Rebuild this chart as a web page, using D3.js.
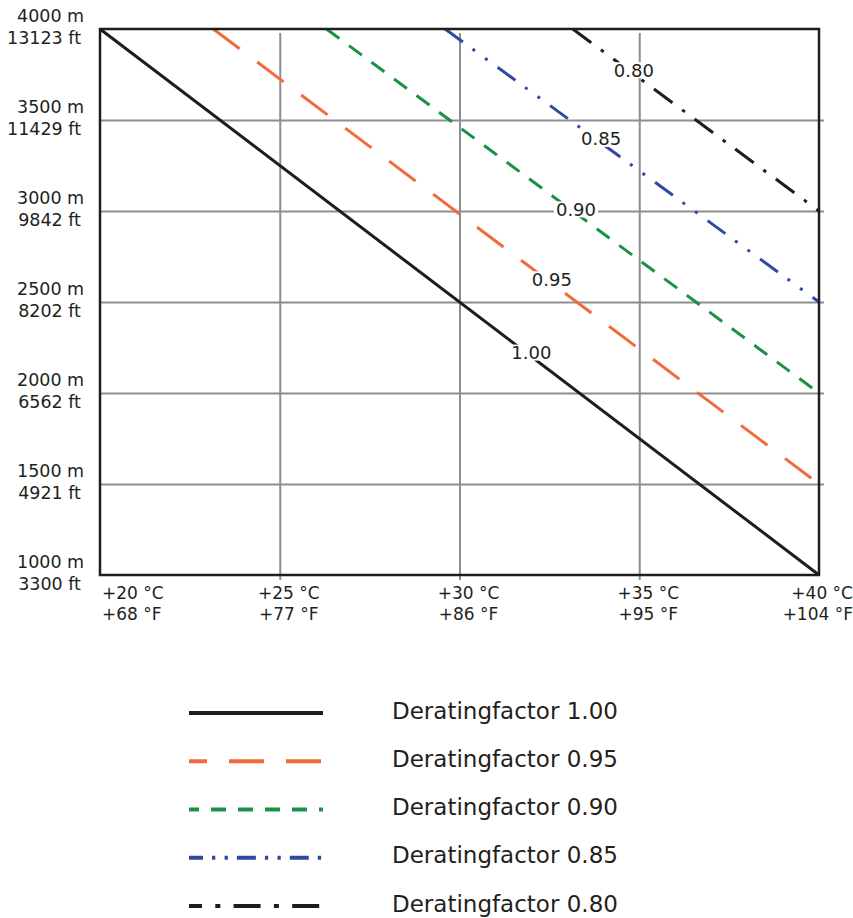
<!DOCTYPE html>
<html>
<head>
<meta charset="utf-8">
<script src="https://cdn.jsdelivr.net/npm/d3@7"></script>
<style>
  html, body { margin: 0; padding: 0; background: #fff; }
  svg { display: block; }
  text { font-family: "DejaVu Sans", sans-serif; fill: #231f20; }
</style>
</head>
<body>
<svg id="chart" width="853" height="918"></svg>
<script>
// Ambient temperature ticks (°C with °F equivalents)
const tempC = [20, 25, 30, 35, 40];
const tempF = [68, 77, 86, 95, 104];

// Altitude ticks (m with ft equivalents)
const altM = [1000, 1500, 2000, 2500, 3000, 3500, 4000];
const altFt = [3300, 4921, 6562, 8202, 9842, 11429, 13123];

// Derating factor curves: temperature where each reaches 4000 m,
// and the altitude each reaches at +40 °C
const factors = ["1.00", "0.95", "0.90", "0.85", "0.80"];
const tempAtTop = [20, 23.15, 26.3, 29.6, 33.15];
const altAt40 = [1000, 1500, 2000, 2500, 3000];

const series = factors.map((f, i) => ({
  factor: f,
  points: [[tempAtTop[i], 4000], [40, altAt40[i]]]
}));

const svg = d3.select("#chart");

const plot = { left: 100, right: 819, top: 29, bottom: 575 };
const x = d3.scaleLinear().domain([20, 40]).range([plot.left, plot.right]);
const y = d3.scaleLinear().domain([1000, 4000]).range([plot.bottom, plot.top]);

const styles = {
  "1.00": { color: "#1d1d1b", dash: null, legendDash: null, legendOffset: 0 },
  "0.95": { color: "#f26b3b", dash: "33,22", legendDash: "35,22", legendOffset: 17 },
  "0.90": { color: "#1b9148", dash: "16,12", legendDash: "15,12", legendOffset: 5 },
  "0.85": { color: "#3049a3", dash: "22,12,3,12.5,3,12.5", legendDash: "19,9,3.3,9.3,3.3,9", legendOffset: 5 },
  "0.80": { color: "#1d1d1b", dash: "23,12,3.5,12", legendDash: "27,13.3,5,13.3", legendOffset: 14 }
};

// Grid lines
const gridColor = "#8e8e90";
const vGrid = svg.append("g")
  .attr("transform", `translate(0,${plot.bottom + 5})`)
  .call(d3.axisTop(x).tickValues([25, 30, 35]).tickSize(plot.bottom + 5 - (plot.top + 4)).tickFormat(""));
const hGrid = svg.append("g")
  .attr("transform", `translate(${plot.right + 5},0)`)
  .call(d3.axisLeft(y).tickValues([1500, 2000, 2500, 3000, 3500]).tickSize(plot.right + 5 - plot.left).tickFormat(""));
[vGrid, hGrid].forEach(g => {
  g.select(".domain").remove();
  g.selectAll("line").attr("stroke", gridColor).attr("stroke-width", 2);
});

// Derating curves
const line = d3.line().x(d => x(d[0])).y(d => y(d[1]));
svg.append("g").selectAll("path")
  .data(series)
  .join("path")
  .attr("d", d => line(d.points))
  .attr("fill", "none")
  .attr("stroke", d => styles[d.factor].color)
  .attr("stroke-width", 3)
  .attr("stroke-dasharray", d => styles[d.factor].dash);

// Plot frame
svg.append("rect")
  .attr("x", plot.left).attr("y", plot.top)
  .attr("width", plot.right - plot.left).attr("height", plot.bottom - plot.top)
  .attr("fill", "none").attr("stroke", "#1d1d1b").attr("stroke-width", 2.5);

// In-plot factor labels, placed on each curve at a chosen temperature
const labelTemp = { "1.00": 32.0, "0.95": 32.57, "0.90": 33.24, "0.85": 33.94, "0.80": 34.85 };
const labelG = svg.append("g");
series.forEach(s => {
  const [[t0, a0], [t1, a1]] = s.points;
  const t = labelTemp[s.factor];
  const alt = a0 + (a1 - a0) * (t - t0) / (t1 - t0);
  const cx = x(t), cy = y(alt) - 4;
  const g = labelG.append("g");
  const txt = g.append("text")
    .attr("x", cx).attr("y", cy + 6.5)
    .attr("text-anchor", "middle")
    .attr("font-size", 18)
    .text(s.factor);
  const bb = txt.node().getBBox();
  g.insert("rect", "text")
    .attr("x", bb.x - 2).attr("y", cy - 8)
    .attr("width", bb.width + 4).attr("height", 16)
    .attr("fill", "#fff");
});

// Y axis labels
const yLab = svg.append("g").attr("font-size", 17.5);
altM.forEach((m, i) => {
  yLab.append("text").attr("x", 17).attr("y", y(m) - 7).attr("text-anchor", "start").text(`${m} m`);
  yLab.append("text").attr("x", 81).attr("y", y(m) + 15).attr("text-anchor", "end").text(`${altFt[i]} ft`);
});

// X axis labels
const xLab = svg.append("g").attr("font-size", 17);
tempC.forEach((c, i) => {
  const last = i === tempC.length - 1, first = i === 0;
  const anchor = first ? "start" : last ? "end" : "middle";
  const px = first ? x(c) + 2 : last ? 853 : x(c) + 9;
  xLab.append("text").attr("x", px).attr("y", 599).attr("text-anchor", anchor).text(`+${c} °C`);
  xLab.append("text").attr("x", px).attr("y", 620).attr("text-anchor", anchor).text(`+${tempF[i]} °F`);
});

// Legend
const legend = svg.append("g");
const rowY = d3.scalePoint().domain(factors).range([713, 906]);
factors.forEach(f => {
  const st = styles[f];
  legend.append("line")
    .attr("x1", 189).attr("x2", 323)
    .attr("y1", rowY(f)).attr("y2", rowY(f))
    .attr("stroke", st.color).attr("stroke-width", 4)
    .attr("stroke-dasharray", st.legendDash)
    .attr("stroke-dashoffset", st.legendOffset);
  legend.append("text")
    .attr("x", 392).attr("y", rowY(f) + 5.5)
    .attr("font-size", 23)
    .text(`Deratingfactor ${f}`);
});
</script>
</body>
</html>
